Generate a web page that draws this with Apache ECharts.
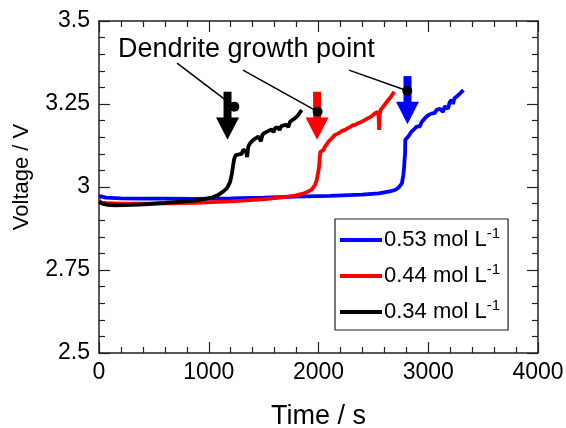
<!DOCTYPE html>
<html>
<head>
<meta charset="utf-8">
<script src="https://cdn.jsdelivr.net/npm/echarts@6/dist/echarts.min.js"></script>
<style>
  html, body { margin: 0; padding: 0; background: #fff; }
  #chart { width: 566px; height: 428px; }
</style>
</head>
<body>
<div id="chart"></div>
<script>
// 数据：时间(s) / 电压(V)
var seriesNames = ['0.53 mol L', '0.44 mol L', '0.34 mol L'];
var seriesColors = ['#0000ff', '#ff0000', '#000000'];

var blueData = [
  [0, 2.969], [20, 2.972], [60, 2.968], [200, 2.966], [400, 2.965], [600, 2.965], [875, 2.964],
  [1200, 2.966], [1500, 2.968], [1786, 2.971], [2100, 2.973], [2396, 2.977], [2550, 2.981],
  [2650, 2.987], [2697, 2.991], [2730, 2.998], [2760, 3.011], [2773, 3.036], [2780, 3.06],
  [2785, 3.086], [2789, 3.10], [2791, 3.142], [2800, 3.138], [2818, 3.152], [2830, 3.158],
  [2848, 3.167], [2860, 3.162], [2875, 3.175], [2894, 3.182], [2910, 3.186], [2925, 3.183],
  [2940, 3.196], [2955, 3.202], [2975, 3.209], [2990, 3.205], [3010, 3.218], [3030, 3.221],
  [3046, 3.227], [3060, 3.223], [3075, 3.232], [3090, 3.228], [3105, 3.236], [3122, 3.237],
  [3135, 3.226], [3150, 3.243], [3168, 3.242], [3180, 3.236], [3195, 3.255], [3213, 3.262],
  [3225, 3.250], [3240, 3.268], [3259, 3.272], [3275, 3.270], [3290, 3.282], [3305, 3.286],
  [3320, 3.292]
];

var redData = [
  [0, 2.959], [20, 2.953], [80, 2.951], [200, 2.950], [500, 2.950], [875, 2.952], [1200, 2.957],
  [1485, 2.963], [1650, 2.968], [1786, 2.974], [1860, 2.980], [1904, 2.986], [1940, 2.993],
  [1968, 3.006], [1983, 3.02], [1995, 3.041], [2005, 3.06], [2012, 3.09], [2017, 3.106],
  [2030, 3.104], [2044, 3.111], [2060, 3.122], [2075, 3.128], [2090, 3.136], [2110, 3.143],
  [2130, 3.150], [2150, 3.157], [2170, 3.160], [2195, 3.164], [2220, 3.170], [2241, 3.172],
  [2265, 3.177], [2290, 3.181], [2310, 3.186], [2333, 3.187], [2360, 3.192], [2390, 3.196],
  [2424, 3.202], [2450, 3.207], [2480, 3.212], [2515, 3.222], [2540, 3.226], [2548, 3.21],
  [2552, 3.172], [2556, 3.21], [2565, 3.232], [2590, 3.242], [2612, 3.252], [2636, 3.262],
  [2660, 3.272], [2691, 3.287]
];

var blackData = [
  [0, 2.956], [30, 2.950], [80, 2.946], [146, 2.945], [300, 2.946], [419, 2.948], [600, 2.952],
  [875, 2.959], [1030, 2.968], [1080, 2.975], [1130, 2.986], [1165, 2.996], [1178, 3.00],
  [1194, 3.015], [1209, 3.036], [1222, 3.065], [1233, 3.086], [1245, 3.096], [1260, 3.094],
  [1275, 3.098], [1290, 3.103], [1300, 3.100], [1315, 3.112], [1330, 3.117], [1340, 3.108],
  [1350, 3.090], [1360, 3.122], [1380, 3.133], [1406, 3.142], [1430, 3.147], [1452, 3.152],
  [1465, 3.145], [1475, 3.138], [1490, 3.158], [1510, 3.163], [1528, 3.167], [1550, 3.170],
  [1575, 3.173], [1590, 3.165], [1604, 3.177], [1625, 3.180], [1645, 3.172], [1660, 3.183],
  [1685, 3.186], [1710, 3.187], [1725, 3.180], [1740, 3.196], [1765, 3.203], [1786, 3.207],
  [1810, 3.215], [1830, 3.224], [1847, 3.232]
];

// 标注：箭头 [x, 顶端, 箭头底边, 尖端]、圆点、引线起点
var arrowData = [
  [1171, 3.287, 3.209, 3.142],
  [1987, 3.287, 3.209, 3.142],
  [2811, 3.334, 3.257, 3.189]
];
var arrowColors = ['#000000', '#ff0000', '#0000ff'];
var dotData = [[1233, 3.242], [1992, 3.227], [2809, 3.290]];
var leaderStart = [[711, 3.373], [1312, 3.352], [2278, 3.352]];
var annotationText = 'Dendrite growth point';

var xTicks = { min: 0, max: 4000, interval: 1000 };
var yTicks = { min: 2.5, max: 3.5, interval: 0.25 };

var FONT = 'Liberation Sans, Arial, sans-serif';

var myChart = echarts.init(document.getElementById('chart'));

function frameAxis(pos, ticks, showLabel) {
  return {
    type: 'value',
    position: pos,
    min: ticks.min,
    max: ticks.max,
    interval: ticks.interval,
    splitLine: { show: false },
    axisLine: { show: true, onZero: false, lineStyle: { color: '#222', width: 1.5 } },
    axisTick: { show: true, inside: true, length: 11, lineStyle: { color: '#222', width: 1.2 } },
    minorTick: { show: true, splitNumber: 5, length: 6, lineStyle: { color: '#222', width: 1.2 } },
    axisLabel: {
      show: showLabel, color: '#000', fontSize: 23, fontFamily: FONT,
      formatter: function (v) { return String(v); }
    }
  };
}

var xBottom = frameAxis('bottom', xTicks, true);
xBottom.axisLabel.margin = 8;
xBottom.name = 'Time / s';
xBottom.nameLocation = 'middle';
xBottom.nameGap = 50;
xBottom.nameTextStyle = { color: '#000', fontSize: 27, fontFamily: FONT };

var yLeft = frameAxis('left', yTicks, true);
yLeft.axisLabel.margin = 9;

var lineSeries = [blueData, redData, blackData].map(function (d, i) {
  return {
    name: seriesNames[i],
    type: 'line',
    data: d,
    showSymbol: false,
    smooth: false,
    lineStyle: { color: seriesColors[i], width: 3.8 },
    itemStyle: { color: seriesColors[i] },
    z: 2 + i
  };
});

var option = {
  animation: false,
  grid: { left: 99, right: 28, top: 21, bottom: 75, outerBoundsMode: 'none', containLabel: false },
  xAxis: [xBottom, frameAxis('top', xTicks, false)],
  yAxis: [yLeft, frameAxis('right', yTicks, false)],
  legend: {
    data: seriesNames,
    orient: 'vertical',
    left: 335,
    top: 219,
    width: 178,
    padding: [7, 8, 7, 5],
    itemGap: 11,
    itemWidth: 42,
    itemHeight: 4,
    icon: 'rect',
    borderColor: '#222',
    borderWidth: 1.2,
    borderRadius: 0,
    formatter: function (name) {
      return '{a|' + name + '}{s|-1}';
    },
    textStyle: {
      color: '#000',
      fontFamily: FONT,
      padding: [0, 0, 0, -3],
      rich: {
        a: { fontSize: 22, lineHeight: 28, fontFamily: FONT, color: '#000' },
        s: { fontSize: 15, lineHeight: 16, verticalAlign: 'top', fontFamily: FONT, color: '#000' }
      }
    }
  },
  graphic: [{
    type: 'text',
    left: 118,
    top: 36,
    style: { text: annotationText, fontSize: 27, fontFamily: FONT, fill: '#000' }
  }, {
    type: 'text',
    x: 22,
    y: 177,
    rotation: Math.PI / 2,
    style: {
      text: 'Voltage / V', fontSize: 22, fontFamily: FONT, fill: '#000',
      align: 'center', verticalAlign: 'middle'
    }
  }],
  series: lineSeries.concat([
    {
      // 引线
      type: 'custom',
      data: leaderStart.map(function (s, i) { return [s[0], s[1], dotData[i][0], dotData[i][1]]; }),
      renderItem: function (params, api) {
        var p1 = api.coord([api.value(0), api.value(1)]);
        var p2 = api.coord([api.value(2), api.value(3)]);
        return {
          type: 'line',
          shape: { x1: p1[0], y1: p1[1], x2: p2[0], y2: p2[1] },
          style: { stroke: '#000', lineWidth: 1.5 }
        };
      },
      silent: true,
      z: 6
    },
    {
      // 箭头
      type: 'custom',
      data: arrowData,
      renderItem: function (params, api) {
        var x = api.value(0);
        var top = api.coord([x, api.value(1)]);
        var base = api.coord([x, api.value(2)]);
        var tip = api.coord([x, api.value(3)]);
        var c = arrowColors[params.dataIndex];
        return {
          type: 'group',
          children: [{
            type: 'rect',
            shape: { x: top[0] - 4, y: top[1], width: 8, height: base[1] - top[1] + 1 },
            style: { fill: c }
          }, {
            type: 'polygon',
            shape: { points: [[base[0] - 11.5, base[1]], [base[0] + 11.5, base[1]], [tip[0], tip[1]]] },
            style: { fill: c }
          }]
        };
      },
      silent: true,
      z: 7
    },
    {
      // 圆点
      type: 'scatter',
      data: dotData,
      symbolSize: 10,
      itemStyle: { color: '#000', opacity: 1 },
      silent: true,
      z: 8
    }
  ])
};

myChart.setOption(option);
</script>
</body>
</html>
